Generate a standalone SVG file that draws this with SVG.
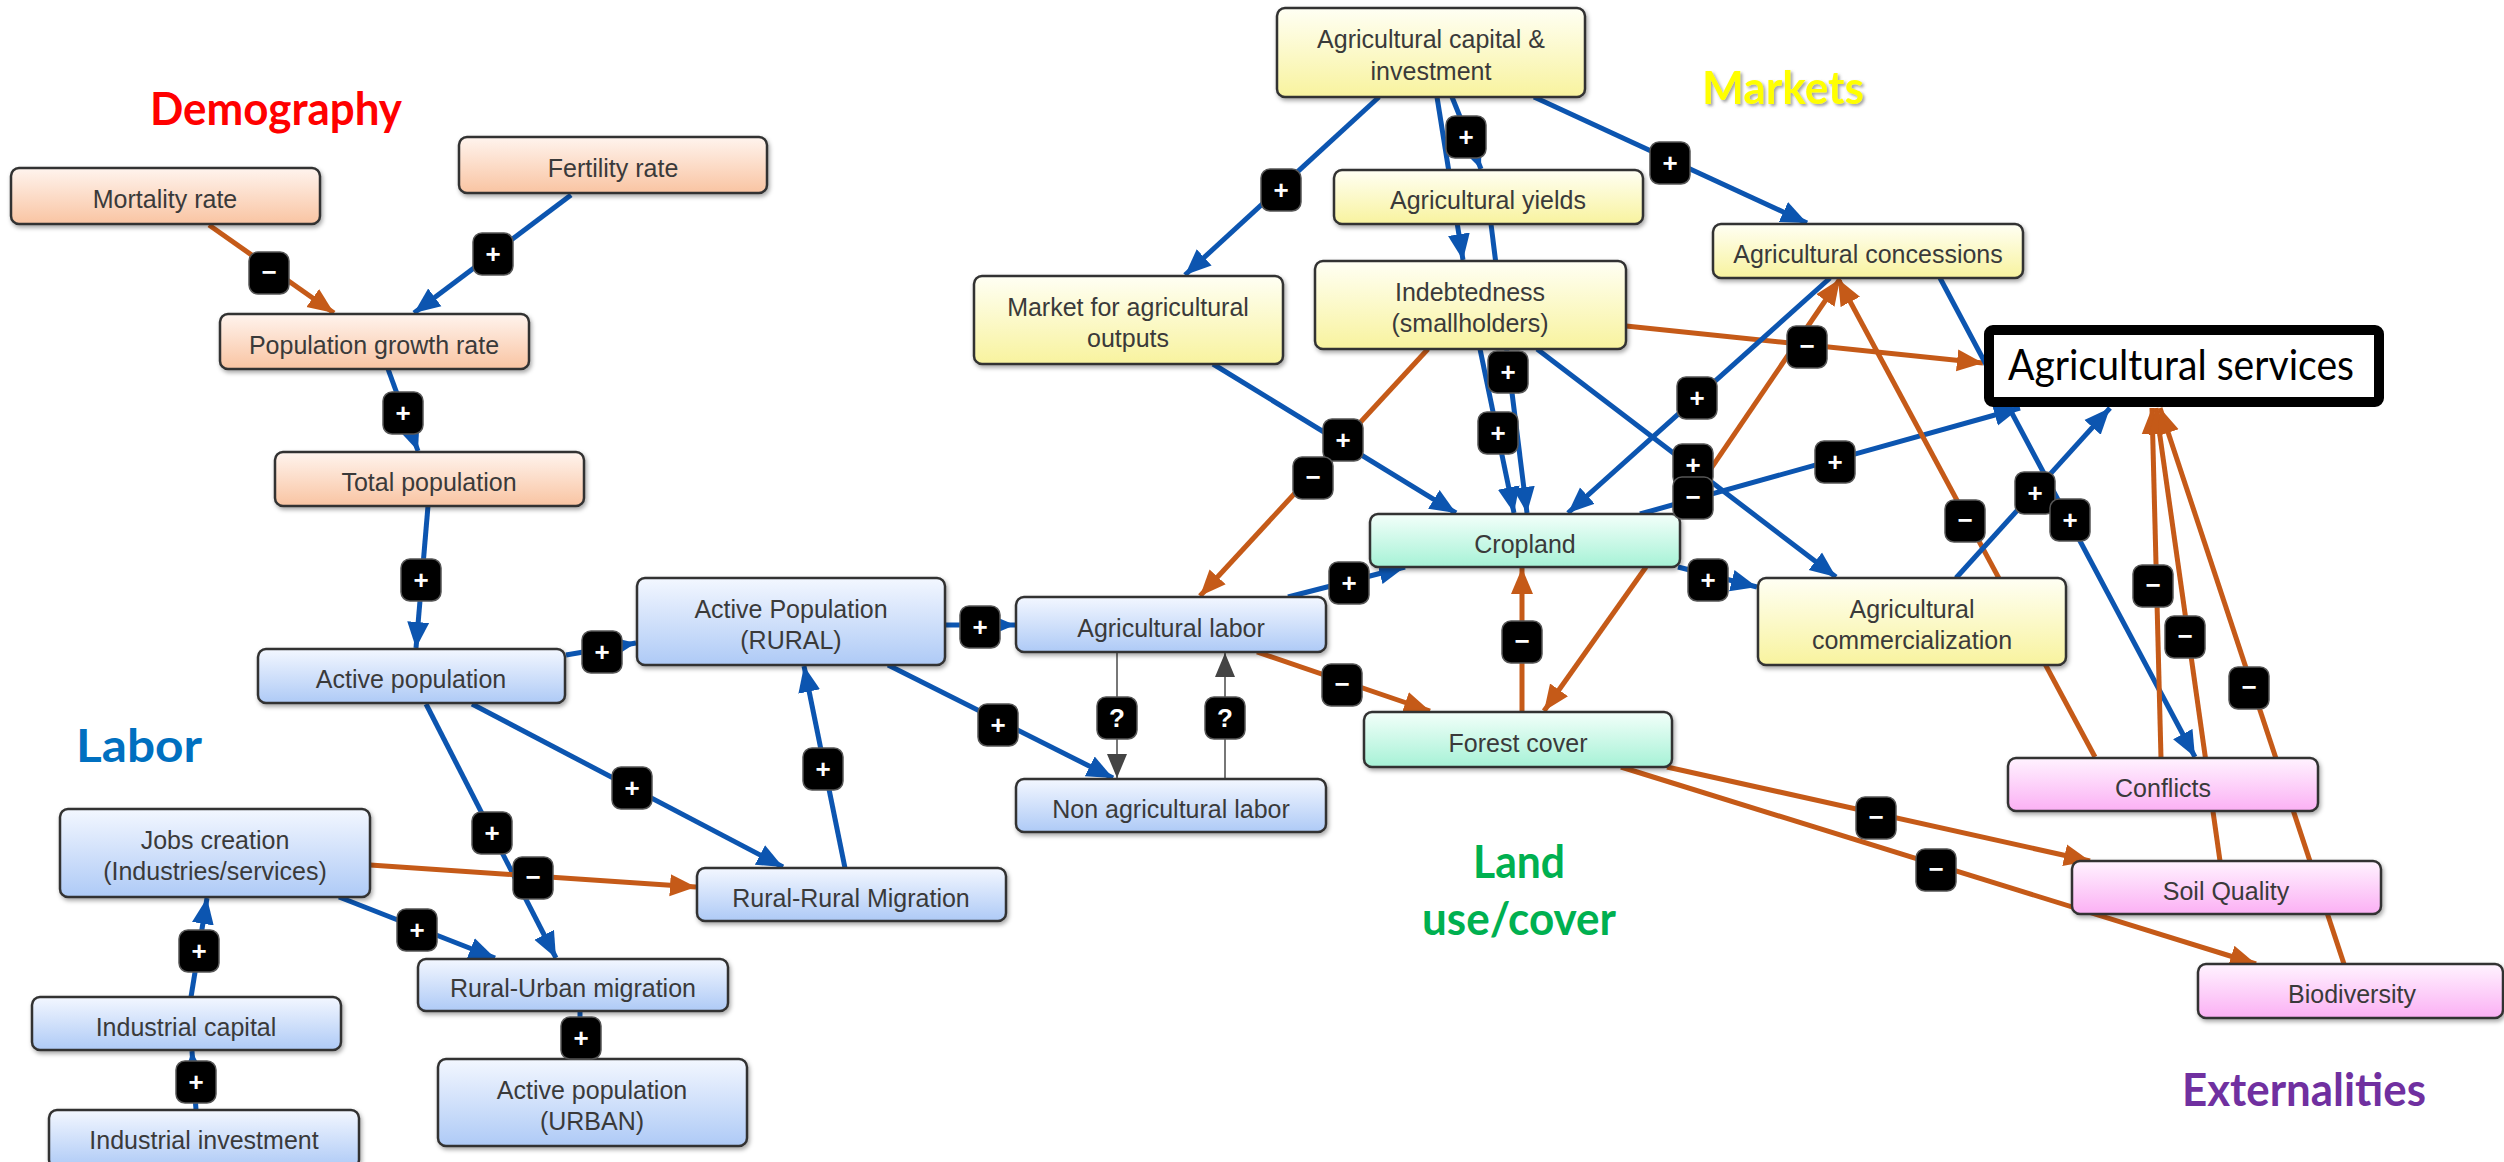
<svg xmlns="http://www.w3.org/2000/svg" width="2504" height="1162" viewBox="0 0 2504 1162">
<style>
.nd{stroke:#333;stroke-width:2.5;filter:url(#sh)}
.nt{font-family:"Liberation Sans",Arial,sans-serif;font-size:25px;fill:#3a3a3a;text-anchor:middle}
.b{fill:none;stroke:#0c55b0;stroke-width:5;marker-end:url(#ab)}
.o{fill:none;stroke:#c55a18;stroke-width:5;marker-end:url(#ao)}
.g{fill:none;stroke:#777;stroke-width:2;marker-end:url(#ag)}
.bd rect{fill:#000;stroke:#555;stroke-width:1.5}
.bd text{font-family:"Liberation Sans",Arial,sans-serif;font-weight:bold;font-size:26px;fill:#fff;text-anchor:middle}
.lab{font-family:Lato,"Liberation Sans",sans-serif;font-weight:bold;font-size:46px}
</style>
<defs>
<filter id="sh" x="-5%" y="-20%" width="110%" height="150%"><feDropShadow dx="1.5" dy="2.5" stdDeviation="2" flood-color="#000" flood-opacity="0.35"/></filter>
<filter id="tsh" x="-5%" y="-20%" width="110%" height="150%"><feDropShadow dx="2" dy="2" stdDeviation="1.5" flood-color="#666" flood-opacity="0.6"/></filter>
<linearGradient id="gp" x1="0" y1="0" x2="0" y2="1"><stop offset="0" stop-color="#fff4ee"/><stop offset="1" stop-color="#f9c4a2"/></linearGradient>
<linearGradient id="gb" x1="0" y1="0" x2="0" y2="1"><stop offset="0" stop-color="#f3f7ff"/><stop offset="1" stop-color="#aecaf6"/></linearGradient>
<linearGradient id="gy" x1="0" y1="0" x2="0" y2="1"><stop offset="0" stop-color="#fffff4"/><stop offset="1" stop-color="#f8f39e"/></linearGradient>
<linearGradient id="gg" x1="0" y1="0" x2="0" y2="1"><stop offset="0" stop-color="#f3fffa"/><stop offset="1" stop-color="#a6f2d6"/></linearGradient>
<linearGradient id="gk" x1="0" y1="0" x2="0" y2="1"><stop offset="0" stop-color="#fff3ff"/><stop offset="1" stop-color="#fbb0f4"/></linearGradient>
<marker id="ab" markerUnits="userSpaceOnUse" markerWidth="28" markerHeight="24" refX="26" refY="12" orient="auto"><path d="M0,1 L26,12 L0,23 z" fill="#0c55b0"/></marker>
<marker id="ao" markerUnits="userSpaceOnUse" markerWidth="28" markerHeight="24" refX="26" refY="12" orient="auto"><path d="M0,1 L26,12 L0,23 z" fill="#c55a18"/></marker>
<marker id="ag" markerUnits="userSpaceOnUse" markerWidth="26" markerHeight="22" refX="24" refY="11" orient="auto"><path d="M0,1 L24,11 L0,21 z" fill="#444"/></marker>
</defs>
<rect width="2504" height="1162" fill="#fff"/>

<g id="labels">
<text class="lab" x="150" y="125" fill="#ff0000" textLength="252" lengthAdjust="spacingAndGlyphs">Demography</text>
<text class="lab" x="1702" y="104" fill="#ffff00" filter="url(#tsh)" textLength="162" lengthAdjust="spacingAndGlyphs">Markets</text>
<text class="lab" x="76" y="762" fill="#0070c0" textLength="126" lengthAdjust="spacingAndGlyphs">Labor</text>
<text class="lab" x="1473" y="878" fill="#00b050" textLength="92" lengthAdjust="spacingAndGlyphs">Land</text>
<text class="lab" x="1422" y="935" fill="#00b050" textLength="194" lengthAdjust="spacingAndGlyphs">use/cover</text>
<text class="lab" x="2182" y="1106" fill="#7030a0" textLength="244" lengthAdjust="spacingAndGlyphs">Externalities</text>
</g>

<g id="connectors">
<line class="o" x1="209" y1="225" x2="334" y2="313"/>
<line class="b" x1="571" y1="195" x2="414" y2="313"/>
<line class="b" x1="388" y1="369" x2="418" y2="451"/>
<line class="b" x1="428" y1="506" x2="416" y2="648"/>
<line class="b" x1="566" y1="655" x2="636" y2="643"/>
<line class="b" x1="472" y1="704" x2="783" y2="867"/>
<line class="b" x1="426" y1="704" x2="556" y2="958"/>
<line class="o" x1="370" y1="865" x2="696" y2="887"/>
<line class="b" x1="339" y1="897" x2="495" y2="958"/>
<line class="b" x1="191" y1="997" x2="207" y2="898"/>
<line class="b" x1="196" y1="1110" x2="192" y2="1051"/>
<line class="b" x1="580" y1="1011" x2="580" y2="1058"/>
<line class="b" x1="845" y1="868" x2="804" y2="666"/>
<line class="b" x1="945" y1="625" x2="1015" y2="625"/>
<line class="b" x1="888" y1="665" x2="1113" y2="778"/>
<line class="g" x1="1117" y1="652" x2="1117" y2="778"/>
<line class="g" x1="1225" y1="779" x2="1225" y2="653"/>
<line class="b" x1="1288" y1="597" x2="1405" y2="567"/>
<line class="o" x1="1257" y1="652" x2="1430" y2="711"/>
<line class="o" x1="1522" y1="712" x2="1522" y2="568"/>
<line class="b" x1="1379" y1="97" x2="1185" y2="275"/>
<line class="b" x1="1452" y1="97" x2="1481" y2="169"/>
<line class="b" x1="1437" y1="97" x2="1463" y2="260"/>
<line class="b" x1="1491" y1="224" x2="1527" y2="513"/>
<line class="b" x1="1480" y1="349" x2="1514" y2="513"/>
<line class="b" x1="1213" y1="364" x2="1456" y2="513"/>
<line class="o" x1="1428" y1="349" x2="1200" y2="596"/>
<line class="o" x1="1626" y1="326" x2="1983" y2="363"/>
<line class="b" x1="1534" y1="97" x2="1807" y2="223"/>
<line class="b" x1="1537" y1="349" x2="1836" y2="577"/>
<line class="b" x1="1830" y1="278" x2="1568" y2="513"/>
<line class="b" x1="1640" y1="514" x2="2020" y2="408"/>
<line class="b" x1="1678" y1="567" x2="1757" y2="587"/>
<line class="o" x1="1680" y1="514" x2="1840" y2="279"/>
<line class="o" x1="1646" y1="567" x2="1544" y2="711"/>
<line class="o" x1="2095" y1="757" x2="1838" y2="279"/>
<line class="b" x1="1940" y1="278" x2="2195" y2="757"/>
<line class="b" x1="1956" y1="578" x2="2110" y2="408"/>
<line class="o" x1="2161" y1="758" x2="2152" y2="408"/>
<line class="o" x1="2220" y1="861" x2="2156" y2="408"/>
<line class="o" x1="2344" y1="964" x2="2160" y2="408"/>
<line class="o" x1="1667" y1="767" x2="2090" y2="861"/>
<line class="o" x1="1621" y1="767" x2="2256" y2="964"/>
</g>

<g id="nodes">
<g id="mortality"><rect class="nd" x="11" y="168" width="309" height="56" rx="8" fill="url(#gp)"/><text class="nt" x="165" y="208">Mortality rate</text></g>
<g id="fertility"><rect class="nd" x="459" y="137" width="308" height="56" rx="8" fill="url(#gp)"/><text class="nt" x="613" y="177">Fertility rate</text></g>
<g id="popgrowth"><rect class="nd" x="220" y="314" width="309" height="55" rx="8" fill="url(#gp)"/><text class="nt" x="374" y="354">Population growth rate</text></g>
<g id="totalpop"><rect class="nd" x="275" y="452" width="309" height="54" rx="8" fill="url(#gp)"/><text class="nt" x="429" y="491">Total population</text></g>
<g id="activepop"><rect class="nd" x="258" y="649" width="307" height="54" rx="8" fill="url(#gb)"/><text class="nt" x="411" y="688">Active population</text></g>
<g id="rural"><rect class="nd" x="637" y="578" width="308" height="87" rx="8" fill="url(#gb)"/><text class="nt" x="791" y="618">Active Population</text><text class="nt" x="791" y="649">(RURAL)</text></g>
<g id="aglabor"><rect class="nd" x="1016" y="597" width="310" height="55" rx="8" fill="url(#gb)"/><text class="nt" x="1171" y="637">Agricultural labor</text></g>
<g id="nonag"><rect class="nd" x="1016" y="779" width="310" height="53" rx="8" fill="url(#gb)"/><text class="nt" x="1171" y="818">Non agricultural labor</text></g>
<g id="jobs"><rect class="nd" x="60" y="809" width="310" height="88" rx="8" fill="url(#gb)"/><text class="nt" x="215" y="849">Jobs creation</text><text class="nt" x="215" y="880">(Industries/services)</text></g>
<g id="ruralrural"><rect class="nd" x="697" y="868" width="309" height="53" rx="8" fill="url(#gb)"/><text class="nt" x="851" y="907">Rural-Rural Migration</text></g>
<g id="ruralurban"><rect class="nd" x="418" y="959" width="310" height="52" rx="8" fill="url(#gb)"/><text class="nt" x="573" y="997">Rural-Urban migration</text></g>
<g id="urban"><rect class="nd" x="438" y="1059" width="309" height="87" rx="8" fill="url(#gb)"/><text class="nt" x="592" y="1099">Active population</text><text class="nt" x="592" y="1130">(URBAN)</text></g>
<g id="indcap"><rect class="nd" x="32" y="997" width="309" height="53" rx="8" fill="url(#gb)"/><text class="nt" x="186" y="1036">Industrial capital</text></g>
<g id="indinv"><rect class="nd" x="49" y="1110" width="310" height="58" rx="8" fill="url(#gb)"/><text class="nt" x="204" y="1149">Industrial investment</text></g>
<g id="agcap"><rect class="nd" x="1277" y="8" width="308" height="89" rx="8" fill="url(#gy)"/><text class="nt" x="1431" y="48">Agricultural capital &amp;</text><text class="nt" x="1431" y="80">investment</text></g>
<g id="yields"><rect class="nd" x="1334" y="170" width="309" height="54" rx="8" fill="url(#gy)"/><text class="nt" x="1488" y="209">Agricultural yields</text></g>
<g id="market"><rect class="nd" x="974" y="276" width="309" height="88" rx="8" fill="url(#gy)"/><text class="nt" x="1128" y="316">Market for agricultural</text><text class="nt" x="1128" y="347">outputs</text></g>
<g id="indebt"><rect class="nd" x="1315" y="261" width="311" height="88" rx="8" fill="url(#gy)"/><text class="nt" x="1470" y="301">Indebtedness</text><text class="nt" x="1470" y="332">(smallholders)</text></g>
<g id="concessions"><rect class="nd" x="1713" y="224" width="310" height="54" rx="8" fill="url(#gy)"/><text class="nt" x="1868" y="263">Agricultural concessions</text></g>
<g id="commerc"><rect class="nd" x="1758" y="578" width="308" height="87" rx="8" fill="url(#gy)"/><text class="nt" x="1912" y="618">Agricultural</text><text class="nt" x="1912" y="649">commercialization</text></g>
<g id="cropland"><rect class="nd" x="1370" y="514" width="310" height="53" rx="8" fill="url(#gg)"/><text class="nt" x="1525" y="553">Cropland</text></g>
<g id="forest"><rect class="nd" x="1364" y="712" width="308" height="55" rx="8" fill="url(#gg)"/><text class="nt" x="1518" y="752">Forest cover</text></g>
<g id="conflicts"><rect class="nd" x="2008" y="758" width="310" height="53" rx="8" fill="url(#gk)"/><text class="nt" x="2163" y="797">Conflicts</text></g>
<g id="soil"><rect class="nd" x="2072" y="861" width="309" height="53" rx="8" fill="url(#gk)"/><text class="nt" x="2226" y="900">Soil Quality</text></g>
<g id="biodiv"><rect class="nd" x="2198" y="964" width="305" height="54" rx="8" fill="url(#gk)"/><text class="nt" x="2352" y="1003">Biodiversity</text></g>
<g id="services"><rect x="1989" y="330" width="390" height="72" rx="4" fill="#fff" stroke="#000" stroke-width="10"/><text x="2181" y="380" font-family="Lato,'Liberation Sans',sans-serif" font-size="42" fill="#000" text-anchor="middle" textLength="346" lengthAdjust="spacingAndGlyphs">Agricultural services</text></g>
</g>

<g id="connector-labels" class="bd">
<rect x="249" y="252" width="40" height="42" rx="9"/><text x="269" y="281">−</text>
<rect x="473" y="233" width="40" height="42" rx="9"/><text x="493" y="263">+</text>
<rect x="383" y="392" width="40" height="42" rx="9"/><text x="403" y="422">+</text>
<rect x="401" y="559" width="40" height="42" rx="9"/><text x="421" y="589">+</text>
<rect x="582" y="631" width="40" height="42" rx="9"/><text x="602" y="661">+</text>
<rect x="612" y="767" width="40" height="42" rx="9"/><text x="632" y="797">+</text>
<rect x="472" y="812" width="40" height="42" rx="9"/><text x="492" y="842">+</text>
<rect x="513" y="857" width="40" height="42" rx="9"/><text x="533" y="886">−</text>
<rect x="397" y="909" width="40" height="42" rx="9"/><text x="417" y="939">+</text>
<rect x="179" y="930" width="40" height="42" rx="9"/><text x="199" y="960">+</text>
<rect x="176" y="1061" width="40" height="42" rx="9"/><text x="196" y="1091">+</text>
<rect x="561" y="1017" width="40" height="42" rx="9"/><text x="581" y="1047">+</text>
<rect x="803" y="748" width="40" height="42" rx="9"/><text x="823" y="778">+</text>
<rect x="960" y="606" width="40" height="42" rx="9"/><text x="980" y="636">+</text>
<rect x="978" y="704" width="40" height="42" rx="9"/><text x="998" y="734">+</text>
<rect x="1097" y="697" width="40" height="42" rx="9"/><text x="1117" y="727">?</text>
<rect x="1205" y="697" width="40" height="42" rx="9"/><text x="1225" y="727">?</text>
<rect x="1329" y="562" width="40" height="42" rx="9"/><text x="1349" y="592">+</text>
<rect x="1322" y="664" width="40" height="42" rx="9"/><text x="1342" y="693">−</text>
<rect x="1502" y="621" width="40" height="42" rx="9"/><text x="1522" y="650">−</text>
<rect x="1261" y="169" width="40" height="42" rx="9"/><text x="1281" y="199">+</text>
<rect x="1446" y="116" width="40" height="42" rx="9"/><text x="1466" y="146">+</text>
<rect x="1488" y="351" width="40" height="42" rx="9"/><text x="1508" y="381">+</text>
<rect x="1323" y="419" width="40" height="42" rx="9"/><text x="1343" y="449">+</text>
<rect x="1478" y="412" width="40" height="42" rx="9"/><text x="1498" y="442">+</text>
<rect x="1293" y="457" width="40" height="42" rx="9"/><text x="1313" y="486">−</text>
<rect x="1787" y="326" width="40" height="42" rx="9"/><text x="1807" y="355">−</text>
<rect x="1650" y="142" width="40" height="42" rx="9"/><text x="1670" y="172">+</text>
<rect x="1677" y="377" width="40" height="42" rx="9"/><text x="1697" y="407">+</text>
<rect x="1673" y="444" width="40" height="42" rx="9"/><text x="1693" y="474">+</text>
<rect x="1815" y="441" width="40" height="42" rx="9"/><text x="1835" y="471">+</text>
<rect x="1673" y="477" width="40" height="42" rx="9"/><text x="1693" y="506">−</text>
<rect x="1688" y="559" width="40" height="42" rx="9"/><text x="1708" y="589">+</text>
<rect x="1945" y="500" width="40" height="42" rx="9"/><text x="1965" y="529">−</text>
<rect x="2015" y="472" width="40" height="42" rx="9"/><text x="2035" y="502">+</text>
<rect x="2050" y="499" width="40" height="42" rx="9"/><text x="2070" y="529">+</text>
<rect x="2133" y="565" width="40" height="42" rx="9"/><text x="2153" y="594">−</text>
<rect x="2165" y="616" width="40" height="42" rx="9"/><text x="2185" y="645">−</text>
<rect x="2229" y="667" width="40" height="42" rx="9"/><text x="2249" y="696">−</text>
<rect x="1856" y="797" width="40" height="42" rx="9"/><text x="1876" y="826">−</text>
<rect x="1916" y="849" width="40" height="42" rx="9"/><text x="1936" y="878">−</text>
</g>
</svg>
